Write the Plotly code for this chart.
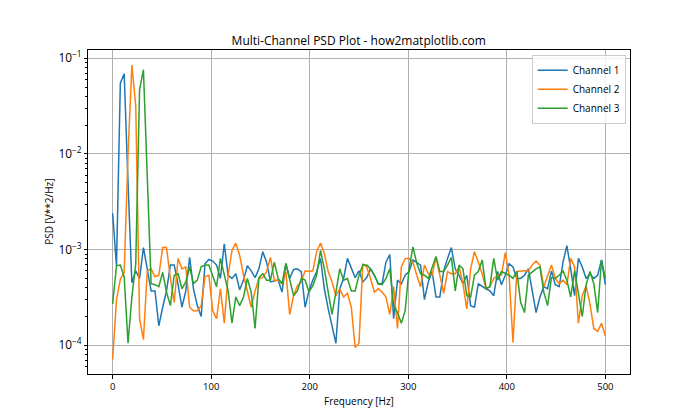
import numpy as np
import plotly.graph_objects as go

# frequency bins of the PSD (NFFT=256, fs=1000 Hz)
freqs = np.arange(129) * 1000 / 256

ch1 = [
    2.4e-3, 6.8e-4, 5.5e-2, 6.9e-2, 5.0e-3, 4.5e-4, 6.0e-4, 5.0e-4, 1.05e-3, 5.9e-4,
    3.7e-4, 3.7e-4, 1.6e-4, 2.5e-4, 3.7e-4, 6.9e-4, 6.9e-4, 4.3e-4, 2.5e-4, 3.7e-4,
    8.3e-4, 3.9e-4, 2.6e-4, 2.0e-4, 7.1e-4, 7.9e-4, 7.6e-4, 6.9e-4, 5.0e-4, 1.15e-3,
    5.4e-4, 5.0e-4, 5.6e-4, 3.8e-4, 4.8e-4, 6.8e-4, 6.0e-4, 5.1e-4, 6.3e-4, 9.5e-4,
    7.4e-4, 4.6e-4, 4.7e-4, 4.8e-4, 3.6e-4, 7.1e-4, 5.0e-4, 6.2e-4, 6.3e-4, 5.9e-4,
    2.5e-4, 3.7e-4, 4.8e-4, 5.9e-4, 8.1e-4, 3.9e-4, 2.4e-4, 1.6e-4, 1.05e-4, 3.9e-4,
    5.0e-4, 8.1e-4, 6.3e-4, 5.1e-4, 6.0e-4, 4.6e-4, 5.1e-4, 6.3e-4, 5.4e-4, 4.4e-4,
    4.4e-4, 7.4e-4, 8.9e-4, 1.9e-4, 4.8e-4, 4.4e-4, 5.4e-4, 5.9e-4, 7.8e-4, 7.4e-4,
    6.9e-4, 3.0e-4, 4.6e-4, 5.9e-4, 3.2e-4, 3.2e-4, 6.0e-4, 8.1e-4, 1.05e-3, 6.3e-4,
    5.4e-4, 4.4e-4, 5.4e-4, 2.6e-4, 2.5e-4, 4.4e-4, 4.1e-4, 3.9e-4, 3.7e-4, 3.3e-4,
    5.9e-4, 4.3e-4, 5.4e-4, 7.1e-4, 6.6e-4, 5.0e-4, 5.0e-4, 5.4e-4, 6.3e-4, 3.6e-4,
    2.2e-4, 3.2e-4, 4.1e-4, 3.9e-4, 6.0e-4, 4.3e-4, 4.1e-4, 7.4e-4, 1.1e-3, 6.3e-4,
    3.3e-4, 8.1e-4, 6.6e-4, 5.0e-4, 5.6e-4, 5.0e-4, 5.4e-4, 7.8e-4, 4.3e-4,
]

ch2 = [
    7.1e-5, 3.0e-4, 4.9e-4, 5.8e-4, 1.0e-2, 8.5e-2, 3.2e-2, 1.9e-4, 1.15e-4, 6.0e-4,
    6.3e-4, 5.2e-4, 5.4e-4, 1.05e-3, 1.05e-3, 5.0e-4, 2.8e-4, 8.1e-4, 6.3e-4, 6.6e-4,
    2.5e-4, 2.3e-4, 2.3e-4, 2.6e-4, 5.2e-4, 5.4e-4, 2.3e-4, 1.9e-4, 3.9e-4, 1.7e-4,
    5.4e-4, 9.8e-4, 1.17e-3, 8.7e-4, 5.4e-4, 3.6e-4, 2.5e-4, 3.7e-4, 5.0e-4, 5.1e-4,
    5.9e-4, 8.3e-4, 4.8e-4, 4.8e-4, 4.4e-4, 5.9e-4, 2.1e-4, 3.3e-4, 4.2e-4, 4.6e-4,
    6.0e-4, 5.9e-4, 6.0e-4, 9.5e-4, 1.17e-3, 9.1e-4, 5.9e-4, 4.6e-4, 3.3e-4, 3.9e-4,
    3.2e-4, 3.5e-4, 2.5e-4, 9.5e-5, 1.05e-4, 7.1e-4, 6.6e-4, 5.0e-4, 3.6e-4, 3.9e-4,
    3.6e-4, 3.2e-4, 2.1e-4, 4.1e-4, 1.5e-4, 6.6e-4, 8.1e-4, 8.1e-4, 7.4e-4, 5.4e-4,
    4.1e-4, 6.9e-4, 5.6e-4, 5.4e-4, 8.3e-4, 5.4e-4, 3.5e-4, 5.9e-4, 5.6e-4, 5.6e-4,
    6.6e-4, 4.4e-4, 2.4e-4, 6.3e-4, 9.5e-4, 7.4e-4, 5.6e-4, 3.9e-4, 4.1e-4, 5.0e-4,
    5.4e-4, 5.4e-4, 9.3e-4, 5.4e-4, 1.07e-4, 5.9e-4, 6.0e-4, 6.0e-4, 6.0e-4, 6.9e-4,
    7.6e-4, 6.9e-4, 4.1e-4, 5.4e-4, 6.9e-4, 5.0e-4, 4.4e-4, 4.8e-4, 4.3e-4, 8.1e-4,
    6.6e-4, 1.7e-4, 3.3e-4, 4.2e-4, 2.7e-4, 1.5e-4, 1.4e-4, 1.7e-4, 1.26e-4,
]

ch3 = [
    2.7e-4, 6.8e-4, 6.9e-4, 5.2e-4, 1.05e-4, 3.2e-4, 7.1e-4, 4.7e-2, 7.6e-2, 6.3e-3,
    4.4e-4, 4.3e-4, 4.1e-4, 5.8e-4, 3.6e-4, 2.6e-4, 5.4e-4, 5.6e-4, 3.9e-4, 4.6e-4,
    6.6e-4, 4.4e-4, 4.8e-4, 6.6e-4, 6.9e-4, 6.9e-4, 5.4e-4, 4.1e-4, 8.1e-4, 5.4e-4,
    3.7e-4, 1.7e-4, 3.2e-4, 2.6e-4, 3.2e-4, 5.0e-4, 3.6e-4, 1.5e-4, 5.1e-4, 5.6e-4,
    4.8e-4, 4.8e-4, 7.4e-4, 5.0e-4, 4.4e-4, 7.2e-4, 4.8e-4, 3.3e-4, 3.7e-4, 5.0e-4,
    4.8e-4, 3.6e-4, 4.2e-4, 5.4e-4, 9.8e-4, 6.3e-4, 3.6e-4, 2.1e-4, 3.6e-4, 6.3e-4,
    4.8e-4, 5.0e-4, 3.7e-4, 3.7e-4, 5.4e-4, 6.9e-4, 6.9e-4, 6.3e-4, 5.4e-4, 4.4e-4,
    4.3e-4, 5.0e-4, 6.3e-4, 2.6e-4, 2.2e-4, 1.7e-4, 2.3e-4, 6.3e-4, 1.07e-3, 7.2e-4,
    5.6e-4, 5.4e-4, 5.0e-4, 6.6e-4, 8.5e-4, 5.9e-4, 5.9e-4, 6.9e-4, 8.3e-4, 3.7e-4,
    6.9e-4, 6.3e-4, 3.3e-4, 3.2e-4, 5.4e-4, 5.9e-4, 7.8e-4, 3.9e-4, 4.1e-4, 8.1e-4,
    4.8e-4, 5.9e-4, 5.6e-4, 5.4e-4, 5.0e-4, 5.9e-4, 2.8e-4, 2.2e-4, 5.4e-4, 5.9e-4,
    6.3e-4, 6.6e-4, 3.6e-4, 2.6e-4, 5.1e-4, 5.0e-4, 5.4e-4, 6.0e-4, 4.8e-4, 3.2e-4,
    6.0e-4, 3.5e-4, 2.0e-4, 4.3e-4, 5.9e-4, 4.4e-4, 2.2e-4, 7.8e-4, 5.0e-4,
]

names = ["Channel 1", "Channel 2", "Channel 3"]
colors = ["#1f77b4", "#ff7f0e", "#2ca02c"]

# minor tick positions of the log axis (2..9 x each decade)
minor_vals = [m * 10.0 ** e for e in range(-5, 0) for m in range(2, 10)]

fig = go.Figure()
for name, vals, c in zip(names, [ch1, ch2, ch3], colors):
    fig.add_trace(go.Scatter(x=freqs, y=vals, mode="lines", name=name,
                             line=dict(color=c, width=1.5)))
# invisible helper so the minor-tick axis is drawn
fig.add_trace(go.Scatter(x=[None], y=[None], yaxis="y2", showlegend=False,
                         hoverinfo="skip"))

font = "Open Sans"
axis_common = dict(
    showline=True, linecolor="black", linewidth=1, mirror=True,
    ticks="outside", ticklen=3.5, tickcolor="black", automargin=False,
    showgrid=True, gridcolor="#b0b0b0", gridwidth=0.8,
    zeroline=False, tickfont=dict(size=9.5, color="black", family=font),
)
yrange = [-4.30, -0.913]

# the page body adds an 8px offset, so margins are set 8px smaller on left/top
fig.update_layout(
    width=700, height=420,
    margin=dict(l=79.5, r=78, t=42.4, b=54.2),
    plot_bgcolor="white", paper_bgcolor="white",
    font=dict(family=font, size=10, color="black"),
    title=dict(text="Multi-Channel PSD Plot - how2matplotlib.com",
               x=350.75 / 700, xanchor="center",
               y=1 - 33 / 420, yanchor="middle",
               font=dict(size=12, color="black", family=font)),
    xaxis=dict(axis_common, range=[-25, 525], tickvals=[0, 100, 200, 300, 400, 500]),
    yaxis=dict(axis_common, type="log", range=yrange, dtick=1,
               exponentformat="power"),
    yaxis2=dict(type="log", range=yrange, overlaying="y", side="left",
                tickvals=minor_vals, ticks="outside", ticklen=2, tickcolor="black",
                showticklabels=False, showgrid=False, zeroline=False,
                showline=False, automargin=False),
    legend=dict(x=0.992, y=0.985, xanchor="right", yanchor="top",
                bgcolor="rgba(255,255,255,0.8)", bordercolor="#cccccc", borderwidth=1,
                font=dict(size=10, family=font), itemwidth=30, tracegroupgap=0),
    annotations=[
        dict(text="Frequency [Hz]", xref="paper", yref="paper", x=0.5, y=0,
             xanchor="center", yanchor="middle", yshift=-27.4, showarrow=False,
             font=dict(size=10, family=font)),
        dict(text="PSD [V**2/Hz]", xref="paper", yref="paper", x=0, y=0.5,
             xanchor="center", yanchor="middle", xshift=-39.2, textangle=-90,
             showarrow=False, font=dict(size=10, family=font)),
    ],
)

fig.write_html("out.html")
